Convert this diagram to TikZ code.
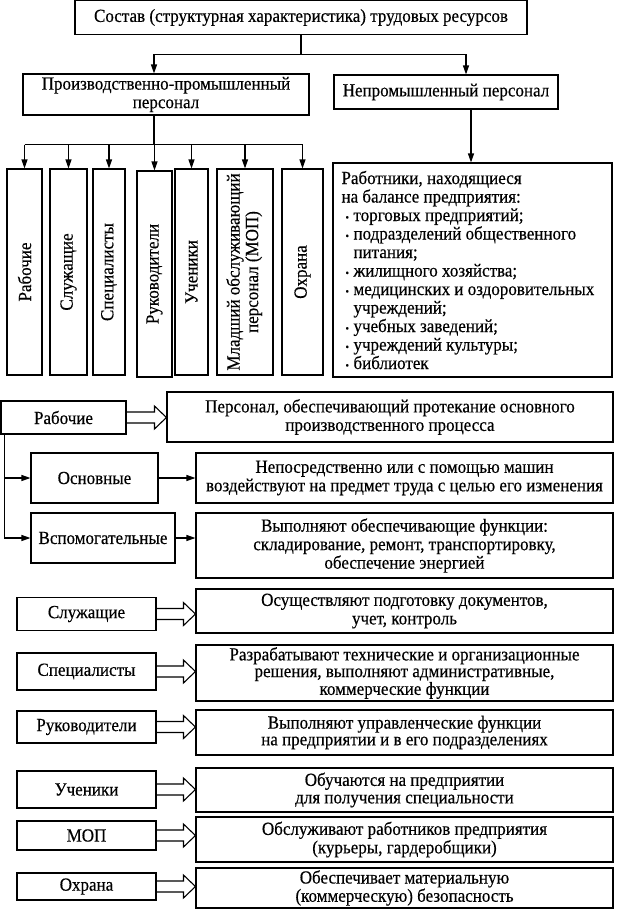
\documentclass[tikz,border=0pt]{standalone}
\usepackage{graphicx}
\usepackage{fontspec}
\setmainfont{Liberation Serif}[FakeStretch=0.92,FakeBold=0.4]
\usetikzlibrary{arrows.meta,calc,positioning}
\frenchspacing

% hollow wide arrow between two boxes
\newcommand{\fatarrow}[2]{%
  \draw[line width=1.1pt] let \p1=(#1.east), \p2=(#2.west) in
    (\x1,\y1+5.5pt) -- (\x2-12pt,\y1+5.5pt) -- (\x2-12pt,\y1+11.5pt) -- (\x2,\y1)
    -- (\x2-12pt,\y1-11.5pt) -- (\x2-12pt,\y1-5.5pt) -- (\x1,\y1-5.5pt);}
\newcommand{\bl}{\hspace*{4pt}\makebox[8pt][l]{\fontsize{11}{11}\selectfont\textbullet}}
\newcommand{\bi}{\hspace*{12pt}}

\begin{document}
\begin{tikzpicture}[x=1pt,y=-1pt,
  font=\fontsize{18.5}{18.5}\selectfont,
  box/.style={draw,line width=1.1pt,inner sep=2pt,align=center},
  vbox/.style={box,minimum height=206pt},
  lbox/.style={box,minimum width=139pt},
  dbox/.style={box,minimum width=417pt},
  arrow/.style={-{Triangle[length=9pt,width=6pt]},line width=1.1pt}
]
\useasboundingbox (0,0) rectangle (617,910);

% top part
\node[box,minimum width=452pt,minimum height=34pt] (title) at (301,17.5) {Состав (структурная характеристика) трудовых ресурсов};
\node[box,minimum width=286pt,minimum height=41pt] (ppp) at (166,94.5) {Производственно-промышленный\\персонал};
\node[box,minimum width=224pt,minimum height=34pt] (np) at (446,92) {Непромышленный персонал};

\node[vbox,minimum width=35pt] (r1) at (24.5,272) {\rotatebox{90}{Рабочие}};
\node[vbox,minimum width=37pt] (r2) at (68.5,272) {\rotatebox{90}{Служащие}};
\node[vbox,minimum width=32pt] (r3) at (109,272) {\rotatebox{90}{Специалисты}};
\node[vbox,minimum width=35pt] (r4) at (154.5,274) {\rotatebox{90}{Руководители}};
\node[vbox,minimum width=33pt] (r5) at (191.5,272) {\rotatebox{90}{Ученики}};
\node[vbox,minimum width=56pt] (r6) at (245,272) {\rotatebox{90}{\begin{tabular}{@{}c@{}}Младший обслуживающий\\персонал (МОП)\end{tabular}}};
\node[vbox,minimum width=41pt] (r7) at (302.5,272) {\rotatebox{90}{Охрана}};

\node[box,minimum width=279pt,minimum height=214pt,text width=262pt,align=flush left] (info) at (472.5,270) {%
Работники, находящиеся\\
на балансе предприятия:\\
\bl торговых предприятий;\\
\bl подразделений общественного\\
\bi питания;\\
\bl жилищного хозяйства;\\
\bl медицинских и оздоровительных\\
\bi учреждений;\\
\bl учебных заведений;\\
\bl учреждений культуры;\\
\bl библиотек};

\coordinate (split) at ($(title.south)+(0,19)$);
\coordinate (pin) at ([xshift=-12pt]ppp.north);
\coordinate (pout) at ([xshift=-12pt]ppp.south);
\coordinate (nin) at ([xshift=20pt]np.north);
\coordinate (nout) at ([xshift=25pt]np.south);
\coordinate (bus) at ($(pout)+(0,29)$);
\draw[line width=1.1pt] (title.south) -- (split);
\draw[line width=1.1pt] (pin |- split) -- (nin |- split);
\draw[arrow] (pin |- split) -- (pin);
\draw[arrow] (nin |- split) -- (nin);
\draw[line width=1.1pt] (pout) -- (bus);
\draw[line width=1.1pt] (bus -| r1.north) -- (bus -| r7.north);
\foreach \n in {r1,r2,r3,r4,r5,r6,r7}
  \draw[arrow] (bus -| \n.north) -- (\n.north);
\draw[arrow] (nout) -- (nout |- info.north);

% lower part
\node[box,minimum width=125pt,minimum height=33pt] (rab) at (63.5,417.5) {Рабочие};
\node[box,minimum width=446pt,minimum height=50pt] (d1) at (390,417) {Персонал, обеспечивающий протекание основного\\производственного процесса};
\node[box,minimum width=127pt,minimum height=50pt] (osn) at (94.5,478) {Основные};
\node[dbox,minimum height=50pt] (d2) at (404.5,478) {Непосредственно или с помощью машин\\воздействуют на предмет труда с целью его изменения};
\node[box,minimum width=144pt,minimum height=50pt] (vsp) at (103,538) {Вспомогательные};
\node[dbox,minimum height=65pt] (d3) at (404.5,545.5) {Выполняют обеспечивающие функции:\\складирование, ремонт, транспортировку,\\обеспечение энергией};

\node[lbox,minimum height=33pt] (slu) at (86.5,614) {Служащие};
\node[dbox,minimum height=44pt] (d4) at (404.5,611) {Осуществляют подготовку документов,\\учет, контроль};
\node[lbox,minimum height=37pt] (spe) at (86.5,671.5) {Специалисты};
\node[dbox,minimum height=56pt,font=\fontsize{18.5}{16.7}\selectfont] (d5) at (404.5,673) {Разрабатывают технические и организационные\\решения, выполняют административные,\\коммерческие функции};
\node[lbox,minimum height=32pt] (ruk) at (86.5,727) {Руководители};
\node[dbox,minimum height=45pt,font=\fontsize{18.5}{16.7}\selectfont] (d6) at (404.5,732.5) {Выполняют управленческие функции\\на предприятии и в его подразделениях};
\node[lbox,minimum height=37pt] (uch) at (86.5,789.5) {Ученики};
\node[dbox,minimum height=44pt,font=\fontsize{18.5}{17.5}\selectfont] (d7) at (404.5,790) {Обучаются на предприятии\\для получения специальности};
\node[lbox,minimum height=29pt] (mop) at (86.5,835.5) {МОП};
\node[dbox,minimum height=45pt] (d8) at (404.5,839.5) {Обслуживают работников предприятия\\(курьеры, гардеробщики)};
\node[lbox,minimum height=27pt] (okh) at (86.5,886.5) {Охрана};
\node[dbox,minimum height=40pt,font=\fontsize{18.5}{16.5}\selectfont] (d9) at (404.5,888) {Обеспечивает материальную\\(коммерческую) безопасность};

\coordinate (trunk) at ([xshift=4pt]rab.south west);
\draw[arrow] (trunk) |- (vsp.west);
\draw[arrow] (trunk |- osn.west) -- (osn.west);
\draw[arrow] (osn.east) -- (osn.east -| d2.west);
\draw[arrow] (vsp.east) -- (vsp.east -| d3.west);

\fatarrow{rab}{d1}
\fatarrow{slu}{d4}
\fatarrow{spe}{d5}
\fatarrow{ruk}{d6}
\fatarrow{uch}{d7}
\fatarrow{mop}{d8}
\fatarrow{okh}{d9}
\end{tikzpicture}
\end{document}
